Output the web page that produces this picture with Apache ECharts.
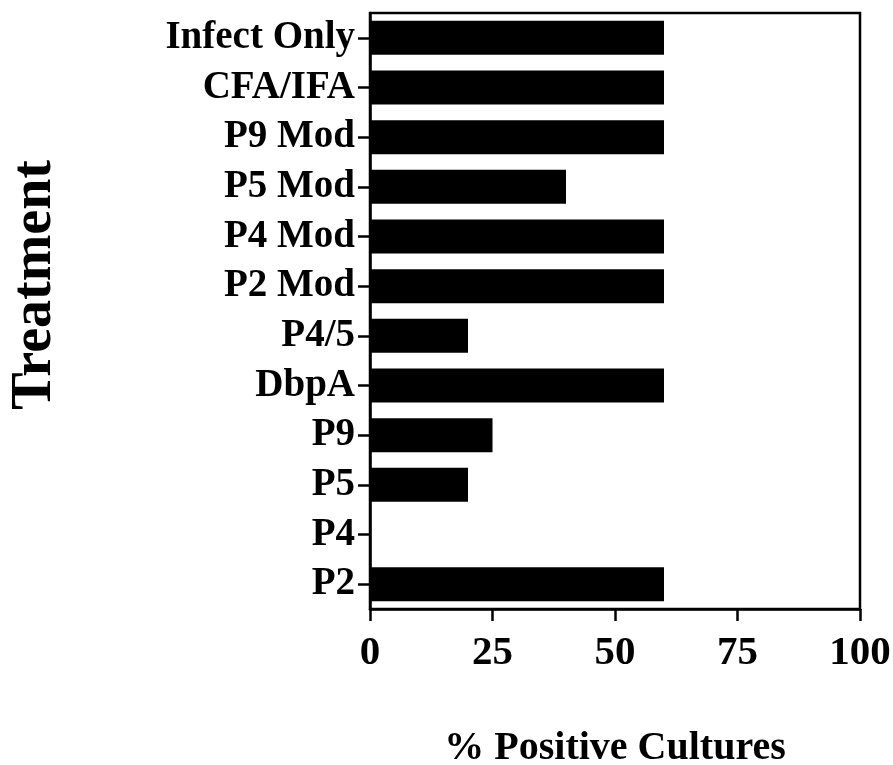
<!DOCTYPE html>
<html>
<head>
<meta charset="utf-8">
<script src="https://cdn.jsdelivr.net/npm/echarts@6/dist/echarts.min.js"></script>
<style>
  html, body { margin: 0; padding: 0; background: #fff; }
  #main { width: 893px; height: 765px; }
</style>
</head>
<body>
<div id="main"></div>
<script>
// treatments, top to bottom as in the figure
const treatments = ['Infect Only', 'CFA/IFA', 'P9 Mod', 'P5 Mod', 'P4 Mod', 'P2 Mod',
  'P4/5', 'DbpA', 'P9', 'P5', 'P4', 'P2'];
// % positive cultures
const positive = [60, 60, 60, 40, 60, 60, 20, 60, 25, 20, 0, 60];
const xTicks = [0, 25, 50, 75, 100];

const font = 'Liberation Serif';

const chart = echarts.init(document.getElementById('main'));

const option = {
  animation: false,
  backgroundColor: '#fff',
  grid: {
    left: 370, right: 33, top: 13, bottom: 156,
    outerBoundsMode: 'none',
    show: true, borderColor: '#000', borderWidth: 2.5
  },
  xAxis: {
    type: 'value',
    min: xTicks[0],
    max: xTicks[xTicks.length - 1],
    interval: 25,
    name: '% Positive Cultures',
    nameLocation: 'middle',
    nameGap: 120,
    nameTextStyle: { fontFamily: font, fontWeight: 'bold', fontSize: 40, color: '#000' },
    axisLine: { show: true, lineStyle: { color: '#000', width: 2.5 } },
    axisTick: { show: true, inside: false, length: 12, lineStyle: { color: '#000', width: 2.5 } },
    axisLabel: { margin: 24, fontFamily: font, fontWeight: 'bold', fontSize: 41, color: '#000' },
    splitLine: { show: false }
  },
  yAxis: {
    type: 'category',
    data: treatments,
    inverse: true,
    axisLine: { show: true, lineStyle: { color: '#000', width: 2.5 } },
    axisTick: { show: true, interval: 0, alignWithLabel: true, length: 12, lineStyle: { color: '#000', width: 2.5 } },
    axisLabel: { interval: 0, margin: 15, fontFamily: font, fontWeight: 'bold', fontSize: 39, color: '#000' },
    splitLine: { show: false }
  },
  graphic: [{
    type: 'text',
    left: 8,
    top: 160,
    rotation: Math.PI / 2,
    originX: 0,
    originY: 0,
    style: {
      text: 'Treatment',
      fontFamily: font,
      fontWeight: 'bold',
      fontSize: 56,
      fill: '#000'
    }
  }],
  series: [{
    type: 'bar',
    data: positive,
    barWidth: 34,
    itemStyle: { color: '#000' }
  }]
};

chart.setOption(option);
</script>
</body>
</html>
